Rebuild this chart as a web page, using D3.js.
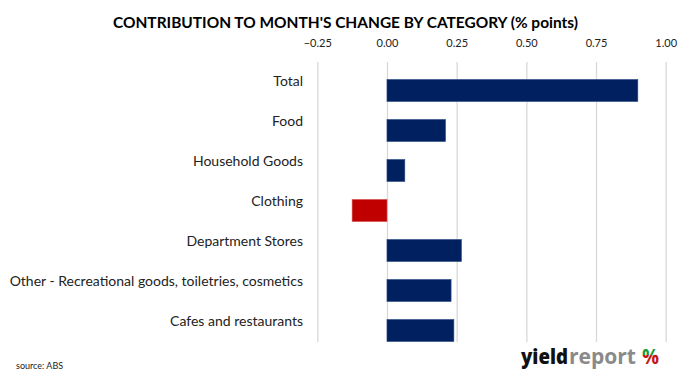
<!DOCTYPE html>
<html><head><meta charset="utf-8">
<script src="https://cdn.jsdelivr.net/npm/d3@7"></script>
<style>
html,body{margin:0;padding:0;background:#fff;}
svg{display:block;}
</style></head>
<body>
<svg id="c" width="690" height="378"></svg>
<script>
const categories = ["Total","Food","Household Goods","Clothing","Department Stores","Other - Recreational goods, toiletries, cosmetics","Cafes and restaurants"];
const values = [0.90, 0.21, 0.064, -0.125, 0.267, 0.23, 0.24];
const tickValues = [-0.25, 0, 0.25, 0.5, 0.75, 1.0];
const title = "CONTRIBUTION TO MONTH'S CHANGE BY CATEGORY (% points)";
const source = "source: ABS";

const svg = d3.select("#c");
const font = "Lato, 'Open Sans', sans-serif";

const x = d3.scaleLinear().domain([-0.25, 1.0]).range([317.3, 665.7]);
const y = d3.scaleBand().domain(categories).range([70.5, 350.5]).paddingInner(0.45).paddingOuter(0.225);

// title
svg.append("text").attr("x", 345.5).attr("y", 28).attr("text-anchor","middle")
  .attr("font-family", font).attr("font-weight","bold").attr("font-size",16)
  .attr("textLength", 465).attr("lengthAdjust","spacingAndGlyphs")
  .attr("fill","#000").text(title);

// gridlines
svg.append("g").selectAll("line").data(tickValues).join("line")
  .attr("x1", d=>x(d)+0.5).attr("x2", d=>x(d)+0.5)
  .attr("y1", 62).attr("y2", 342)
  .attr("stroke", "#d9d9d9").attr("stroke-width", 1.3);

// axis
const ax = svg.append("g").attr("transform","translate(0,50)")
  .call(d3.axisTop(x).tickValues(tickValues).tickFormat(d3.format(".2f")).tickSize(0));
ax.select(".domain").remove();
ax.selectAll("text").attr("font-family", font).attr("font-size", 11).attr("fill","#222").attr("dy","0");

// bars
svg.append("g").selectAll("rect").data(categories).join("rect")
  .attr("x", (d,i)=>x(Math.min(0, values[i])))
  .attr("width", (d,i)=>Math.abs(x(values[i]) - x(0)))
  .attr("y", d=>y(d)).attr("height", y.bandwidth())
  .attr("fill", (d,i)=> values[i] < 0 ? "#c00000" : "#002060")
  .attr("stroke", (d,i)=> values[i] < 0 ? "#d24a4a" : "#2c4a86").attr("stroke-width", 0.6);

// category labels
svg.append("g").selectAll("text").data(categories).join("text")
  .attr("x", 303).attr("y", d=>y(d) + y.bandwidth()/2 - 9).attr("dy","0.35em")
  .attr("text-anchor","end").attr("font-family", font).attr("font-size", 14).attr("fill","#222")
  .text(d=>d);

// source
svg.append("text").attr("x", 16).attr("y", 369).attr("font-family", font).attr("font-size", 9)
  .attr("fill","#222").text(source);

// logo
const lf = "'Open Sans', sans-serif";
svg.append("text").attr("x", 521).attr("y", 364).attr("font-family", lf).attr("font-weight","800")
  .attr("font-size", 21).attr("textLength", 47).attr("lengthAdjust","spacingAndGlyphs")
  .attr("fill","#111").text("yield");
svg.append("text").attr("x", 569).attr("y", 364).attr("font-family", lf).attr("font-weight","bold")
  .attr("font-size", 21).attr("textLength", 67).attr("lengthAdjust","spacingAndGlyphs")
  .attr("fill","#8a8a8a").text("report");
const defs = svg.append("defs");
const grad = defs.append("linearGradient").attr("id","pct").attr("x1",0).attr("y1",0).attr("x2",0).attr("y2",1);
grad.append("stop").attr("offset","50%").attr("stop-color","#1a9a3a");
grad.append("stop").attr("offset","50%").attr("stop-color","#c01818");
svg.append("text").attr("x", 642).attr("y", 364).attr("font-family", lf)
  .attr("font-weight","bold").attr("font-size", 22).attr("textLength", 17).attr("lengthAdjust","spacingAndGlyphs")
  .attr("fill","url(#pct)").text("%");
</script>
</body></html>
